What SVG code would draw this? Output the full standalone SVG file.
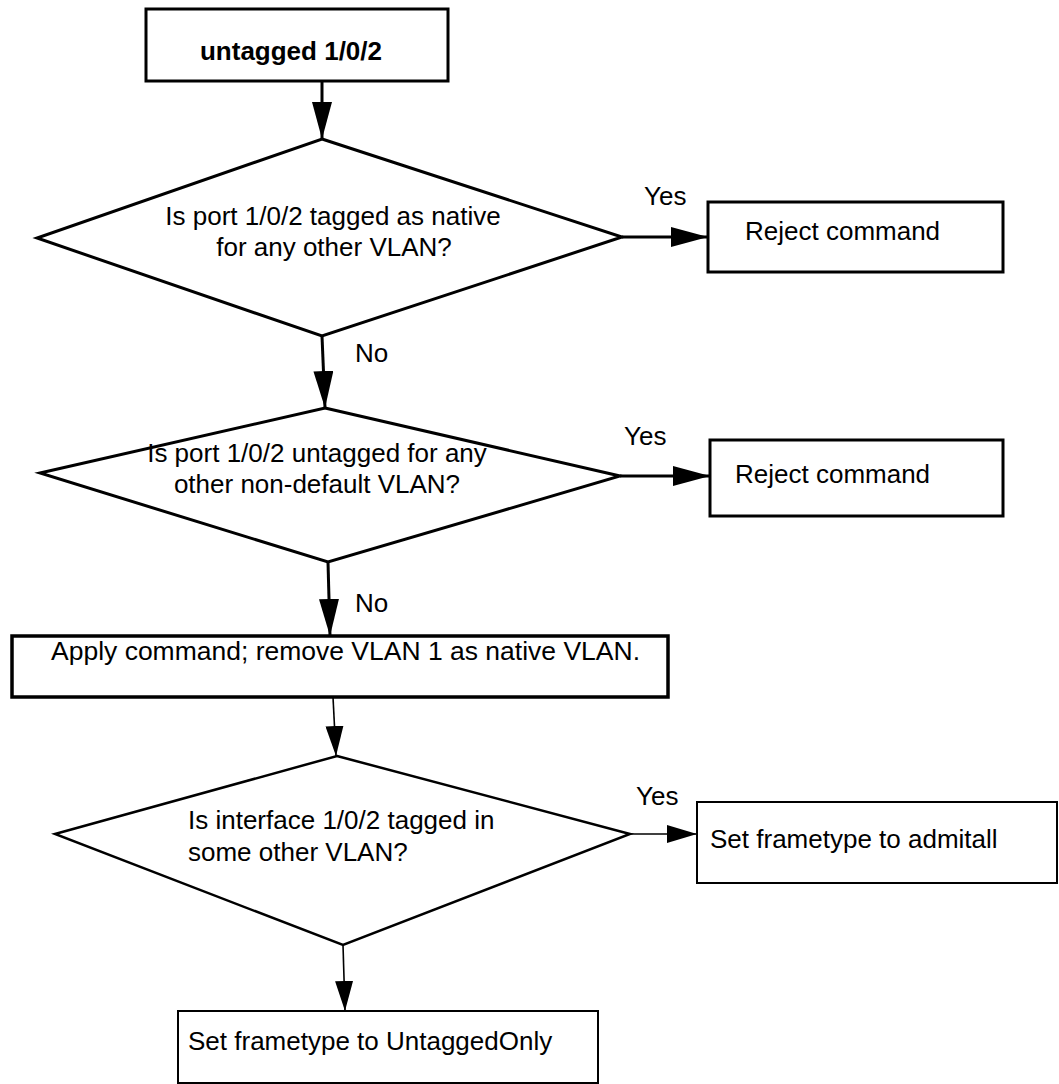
<svg xmlns="http://www.w3.org/2000/svg" width="1059" height="1084" viewBox="0 0 1059 1084">
<defs>
<marker id="ahBig" viewBox="0 0 37 20" markerWidth="37" markerHeight="20" refX="37" refY="10" orient="auto" markerUnits="userSpaceOnUse"><path d="M0,0 L37,10 L0,20 z" fill="#000"/></marker>
<marker id="ahSmall" viewBox="0 0 30 18" markerWidth="30" markerHeight="18" refX="30" refY="9" orient="auto" markerUnits="userSpaceOnUse"><path d="M0,0 L30,9 L0,18 z" fill="#000"/></marker>
</defs>
<style>
text{font-family:"Liberation Sans",Arial,sans-serif;font-size:26px;fill:#000}
.b{font-weight:bold}
.m{text-anchor:middle}
.shape{fill:#fff;stroke:#000}
.thick{stroke-width:3}
.thin{stroke-width:2}
.c{stroke:#000;fill:none}
.cT{stroke-width:3;marker-end:url(#ahBig)}
.cS{stroke-width:1.6;marker-end:url(#ahSmall)}
</style>
<g id="connectors">
<line class="c cT" x1="322" y1="81" x2="322" y2="139"/>
<line class="c cT" x1="622" y1="237" x2="708" y2="237"/>
<line class="c cT" x1="322" y1="336" x2="325" y2="408"/>
<line class="c cT" x1="620" y1="476" x2="710" y2="476"/>
<line class="c cT" x1="328" y1="562" x2="330" y2="636"/>
<line class="c cS" x1="333" y1="697" x2="336" y2="756"/>
<line class="c cS" x1="630" y1="834" x2="697" y2="834"/>
<line class="c cS" x1="343" y1="945" x2="345" y2="1011"/>
<text x="644" y="205">Yes</text>
<text x="355" y="362">No</text>
<text x="624" y="445">Yes</text>
<text x="355" y="612">No</text>
<text x="636" y="805">Yes</text>
</g>
<g id="start">
<rect class="shape thick" x="146" y="9" width="302" height="72"/>
<text class="b m" x="291" y="60">untagged 1/0/2</text>
</g>
<g id="decision1">
<polygon class="shape thick" points="322,139 622,237 322,336 37,238"/>
<text class="m" x="333" y="225">Is port 1/0/2 tagged as native</text>
<text class="m" x="334" y="256">for any other VLAN?</text>
</g>
<g id="reject1">
<rect class="shape thick" x="708" y="202" width="295" height="70"/>
<text x="745" y="240">Reject command</text>
</g>
<g id="decision2">
<polygon class="shape thick" points="325,408 620,476 328,562 40,473"/>
<text class="m" x="317" y="462">Is port 1/0/2 untagged for any</text>
<text class="m" x="317" y="493">other non-default VLAN?</text>
</g>
<g id="reject2">
<rect class="shape thick" x="710" y="440" width="293" height="76"/>
<text x="735" y="483">Reject command</text>
</g>
<g id="apply">
<rect class="shape" stroke-width="3.5" x="12" y="636" width="656" height="61"/>
<text x="51" y="660" textLength="589" lengthAdjust="spacingAndGlyphs">Apply command; remove VLAN 1 as native VLAN.</text>
</g>
<g id="decision3">
<polygon class="shape" stroke-width="2.5" points="337,756 630,834 343,945 55,834"/>
<text x="188" y="829">Is interface 1/0/2 tagged in</text>
<text x="188" y="861">some other VLAN?</text>
</g>
<g id="admitall">
<rect class="shape thin" x="697" y="802" width="360" height="81"/>
<text x="710" y="848">Set frametype to admitall</text>
</g>
<g id="untaggedonly">
<rect class="shape thin" x="178" y="1011" width="420" height="72"/>
<text x="188" y="1050">Set frametype to UntaggedOnly</text>
</g>
</svg>
